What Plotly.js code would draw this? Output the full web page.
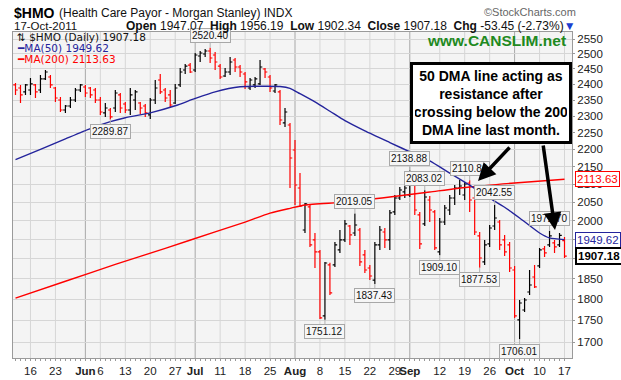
<!DOCTYPE html>
<html><head><meta charset="utf-8">
<script src="https://cdn.plot.ly/plotly-3.0.1.min.js"></script>
<style>html,body{margin:0;padding:0;background:#fff;}#chart{width:621px;height:380px;}</style>
</head><body><div id="chart"></div>
<script>
const dates = [
'2011-05-11','2011-05-12','2011-05-13','2011-05-16','2011-05-17','2011-05-18','2011-05-19','2011-05-20','2011-05-23','2011-05-24','2011-05-25','2011-05-26','2011-05-27','2011-05-31',
'2011-06-01','2011-06-02','2011-06-03','2011-06-06','2011-06-07','2011-06-08','2011-06-09','2011-06-10','2011-06-13','2011-06-14','2011-06-15','2011-06-16','2011-06-17','2011-06-20','2011-06-21','2011-06-22','2011-06-23','2011-06-24','2011-06-27','2011-06-28','2011-06-29','2011-06-30',
'2011-07-01','2011-07-05','2011-07-06','2011-07-07','2011-07-08','2011-07-11','2011-07-12','2011-07-13','2011-07-14','2011-07-15','2011-07-18','2011-07-19','2011-07-20','2011-07-21','2011-07-22','2011-07-25','2011-07-26','2011-07-27','2011-07-28','2011-07-29',
'2011-08-01','2011-08-02','2011-08-03','2011-08-04','2011-08-05','2011-08-08','2011-08-09','2011-08-10','2011-08-11','2011-08-12','2011-08-15','2011-08-16','2011-08-17','2011-08-18','2011-08-19','2011-08-22','2011-08-23','2011-08-24','2011-08-25','2011-08-26','2011-08-29','2011-08-30','2011-08-31',
'2011-09-01','2011-09-02','2011-09-06','2011-09-07','2011-09-08','2011-09-09','2011-09-12','2011-09-13','2011-09-14','2011-09-15','2011-09-16','2011-09-19','2011-09-20','2011-09-21','2011-09-22','2011-09-23','2011-09-26','2011-09-27','2011-09-28','2011-09-29','2011-09-30',
'2011-10-03','2011-10-04','2011-10-05','2011-10-06','2011-10-07','2011-10-10','2011-10-11','2011-10-12','2011-10-13','2011-10-14','2011-10-17'];

const open = [2397.9,2388.2,2375.5,2381.8,2397.9,2381.8,2417.2,2423.6,2388.2,2350.1,2318.9,2331.4,2350.1,2381.8,
2391.4,2388.2,2381.8,2350.1,2309.7,2318.9,2325.1,2366.0,2337.6,2318.9,2350.1,2340.7,2331.4,2303.5,2350.1,2413.9,2381.8,2366.0,2340.7,2397.9,2446.4,2462.6,
2446.4,2492.7,2499.4,2509.3,2496.0,2459.3,2426.9,2439.8,2479.3,2456.3,2433.4,2388.2,2397.9,2401.1,2449.7,2423.6,2378.6,2375.5,2279.0,2272.8,
2198.0,2089.1,1974.9,2036.7,1948.7,1917.7,1760.3,1884.6,1884.6,1922.8,1948.7,1985.5,1967.0,1974.9,1910.0,1877.0,1847.0,1935.7,1969.6,1948.7,2023.1,2061.3,2078.0,
2069.6,2105.9,2015.0,1990.9,2055.8,2023.1,1917.7,1996.2,2028.5,2061.3,2089.1,2069.6,2103.1,2061.3,1959.2,1892.2,1938.3,1985.5,1996.2,1948.7,1935.7,
1872.0,1750.9,1774.4,1817.7,1854.5,1882.1,1925.4,1935.7,1941.0,1935.7,1947.07];

const high = [2404.3,2397.9,2401.1,2420.4,2401.0,2430.2,2446.4,2430.2,2391.4,2359.6,2334.5,2359.6,2388.2,2401.1,
2397.9,2391.4,2388.2,2359.6,2340.7,2325.1,2381.8,2372.3,2343.9,2388.2,2381.8,2343.9,2337.6,2356.4,2413.9,2433.4,2388.2,2381.8,2401.1,2453.0,2465.9,2469.2,
2502.7,2509.3,2516.1,2520.40,2506.0,2465.9,2453.0,2489.4,2486.0,2462.6,2439.8,2420.4,2423.6,2479.3,2453.0,2430.2,2401.1,2381.8,2325.1,2279.0,
2227.6,2131.5,2047.6,2042.2,1967.0,1922.8,1892.2,1890.0,1943.5,1974.9,2001.5,1988.2,2019.05,1980.2,1922.8,1884.6,1943.5,1985.5,1980.2,2028.5,2069.6,2092.1,2105.9,
2138.88,2111.5,2023.1,2083.02,2066.9,2028.5,2006.9,2042.2,2069.6,2097.5,2111.5,2105.9,2110.84,2064.1,1969.6,1948.7,1988.2,2042.55,2001.5,1961.8,1943.5,
1882.1,1798.3,1803.2,1872.0,1884.6,1928.0,1933.2,1972.70,1948.7,1967.0,1956.19];

const low = [2366.0,2340.7,2366.0,2366.0,2356.4,2372.3,2413.9,2388.2,2343.9,2312.7,2309.7,2325.1,2343.9,2375.5,
2359.6,2356.4,2340.7,2303.5,2297.4,2289.87,2312.7,2309.7,2309.7,2303.5,2318.9,2306.6,2297.4,2291.2,2337.6,2369.2,2343.9,2325.1,2337.6,2391.4,2433.4,2436.6,
2439.8,2472.7,2489.4,2469.4,2446.4,2417.2,2423.6,2430.2,2439.8,2423.6,2385.0,2381.8,2388.2,2397.9,2420.4,2375.5,2372.3,2272.8,2266.7,2089.1,
2042.2,2036.7,1967.0,1930.6,1877.0,1753.3,1751.12,1810.4,1879.6,1915.1,1943.5,1935.7,1959.2,1882.1,1864.5,1847.0,1837.43,1922.8,1928.0,1922.8,2015.0,2055.8,2061.3,
2064.1,2015.0,1925.4,1985.5,1996.2,1922.8,1909.10,1988.2,2015.0,2042.2,2069.6,2055.8,2023.1,1961.8,1877.53,1884.6,1930.6,1974.9,1922.8,1907.4,1867.0,
1755.6,1706.01,1769.7,1810.4,1827.5,1877.0,1904.9,1930.6,1915.1,1930.6,1902.34];

const close = [2381.8,2366.0,2397.9,2401.1,2375.5,2417.2,2439.8,2397.9,2356.4,2318.9,2331.4,2350.1,2381.8,2397.9,
2372.3,2366.0,2350.1,2312.7,2325.1,2297.4,2372.3,2325.1,2318.9,2366.0,2375.5,2325.1,2309.7,2350.1,2388.2,2375.5,2356.4,2334.5,2388.2,2439.8,2459.3,2439.8,
2496.0,2502.7,2509.3,2486.0,2472.7,2423.6,2439.8,2472.7,2456.3,2439.8,2407.5,2413.9,2417.2,2456.3,2439.8,2388.2,2397.9,2288.1,2312.7,2174.6,
2097.5,2039.5,2044.9,1935.7,1917.7,1755.6,1889.6,1815.3,1935.7,1948.7,1990.9,1961.8,1988.2,1892.2,1872.0,1857.0,1935.7,1974.9,1948.7,2020.4,2061.3,2083.5,2089.1,
2111.5,2028.5,1938.3,2064.1,2028.5,1928.0,1996.2,2033.9,2061.3,2089.1,2094.7,2100.3,2055.8,1969.6,1902.3,1935.7,1980.2,2006.9,1935.7,1917.7,1877.0,
1760.3,1791.1,1798.3,1834.8,1830.0,1922.8,1915.1,1959.2,1930.6,1960.63,1907.18];

const ma50Dates = ['2011-05-11','2011-05-18','2011-05-25','2011-06-02','2011-06-08','2011-06-13','2011-06-20','2011-06-27','2011-07-01','2011-07-08','2011-07-15','2011-07-22','2011-07-27','2011-07-29','2011-08-02','2011-08-05','2011-08-10','2011-08-15','2011-08-19','2011-08-26','2011-09-02','2011-09-08','2011-09-14','2011-09-20','2011-09-26','2011-09-29','2011-10-04','2011-10-10','2011-10-12','2011-10-17'];
const ma50Values = [2170,2200,2231,2262,2283,2295,2310,2332,2355,2376,2392,2394,2393,2387,2370,2344,2315,2286,2255,2220,2186,2166,2131,2097,2061,2036,2007,1967,1954,1949.62];

const ma200Dates = ['2011-05-11','2011-05-25','2011-06-09','2011-06-23','2011-07-08','2011-07-18','2011-07-25','2011-07-29','2011-08-03','2011-08-15','2011-08-26','2011-09-08','2011-09-20','2011-10-03','2011-10-17'];
const ma200Values = [1803,1844,1886,1927,1970,1996,2020,2033,2042,2050,2064,2078,2092,2103,2113.63];

const tickDates = ['2011-05-16','2011-05-23','2011-06-01','2011-06-06','2011-06-13','2011-06-20','2011-06-27','2011-07-01','2011-07-11','2011-07-18','2011-07-25','2011-08-01','2011-08-08','2011-08-15','2011-08-22','2011-08-29','2011-09-01','2011-09-12','2011-09-19','2011-09-26','2011-10-03','2011-10-10','2011-10-17'];
const tickLabels = ['16','23','Jun','6','13','20','27','Jul','11','18','25','Aug','8','15','22','29','Sep','12','19','26','Oct','10','17'];

const yTicks = [1700,1750,1800,1850,1900,1950,2000,2050,2100,2150,2200,2250,2300,2350,2400,2450,2500,2550];
const yTicksHidden = [1900,1950];

const labelDates = ['2011-07-07','2011-06-08','2011-08-09','2011-08-17','2011-08-23','2011-09-01','2011-09-07','2011-09-12','2011-09-20','2011-09-22','2011-09-27','2011-10-04','2011-10-12'];
const labelKinds = ['high','low','low','high','low','high','high','low','high','low','high','low','high'];

// ---- build ----
const L = Math.log10;
const blk = {x:[],open:[],high:[],low:[],close:[]};
const red = {x:[],open:[],high:[],low:[],close:[]};
dates.forEach((d,i)=>{
  const prev = i>0 ? close[i-1] : open[0];
  const t = close[i] >= prev ? blk : red;
  t.x.push(d); t.open.push(open[i]); t.high.push(high[i]); t.low.push(low[i]); t.close.push(close[i]);
});
function ohlcTrace(s,color){
  return Object.assign({type:'ohlc',tickwidth:0.45,hoverinfo:'skip',showlegend:false,
    line:{width:1.2},
    increasing:{line:{color:color,width:1.2}},decreasing:{line:{color:color,width:1.2}}},s);
}
const traces = [
  {type:'scatter',mode:'lines',x:ma200Dates,y:ma200Values,line:{color:'#ff0000',width:1.4,shape:'spline',smoothing:0.6},hoverinfo:'skip',showlegend:false},
  {type:'scatter',mode:'lines',x:ma50Dates,y:ma50Values,line:{color:'#24249c',width:1.4,shape:'spline',smoothing:0.6},hoverinfo:'skip',showlegend:false},
  ohlcTrace(blk,'#000000'),
  ohlcTrace(red,'#ff0000')
];

const X0=13, PW=559, Y0=32, PH=326;
const px = X => (X - X0)/PW;
const py = Y => (Y0 + PH - Y)/PH;

const shapes = tickDates.map((d,k)=>{
  const month = isNaN(parseInt(tickLabels[k]));
  return {type:'line',xref:'x',yref:'paper',x0:dates.indexOf(d),x1:dates.indexOf(d),y0:0,y1:1,
    line:{color: month ? '#a8a8a8' : '#d6d6d6', width:1}, layer:'below'};
});

const ann = [];
// price labels
labelDates.forEach((d,k)=>{
  const i = dates.indexOf(d);
  const isHigh = labelKinds[k]==='high';
  const v = isHigh ? high[i] : low[i];
  ann.push({x:d,y:L(v),xref:'x',yref:'y',text:v.toFixed(2),showarrow:true,arrowhead:0,arrowwidth:1,arrowcolor:'#b0b0b0',
    ax:0,ay:isHigh?-12:12,standoff:0,font:{family:'Liberation Sans, Arial, sans-serif',size:10,color:'#111'},
    bgcolor:'#f6f6f6',bordercolor:'#a8a8a8',borderwidth:1,borderpad:1});
});
// header
ann.push({xref:'paper',yref:'paper',x:px(12),y:py(13),xanchor:'left',yanchor:'middle',showarrow:false,
  text:'<b>$HMO</b>',font:{family:'Liberation Sans, Arial, sans-serif',size:14,color:'#000'}});
ann.push({xref:'paper',yref:'paper',x:px(57),y:py(13),xanchor:'left',yanchor:'middle',showarrow:false,
  text:'(Health Care Payor - Morgan Stanley) INDX',font:{family:'Liberation Sans Narrow, Liberation Sans, Arial, sans-serif',size:12,color:'#111'}});
ann.push({xref:'paper',yref:'paper',x:px(578),y:py(12),xanchor:'right',yanchor:'middle',showarrow:false,
  text:'©StockCharts.com',font:{family:'Liberation Sans, Arial, sans-serif',size:11,color:'#666'}});
ann.push({xref:'paper',yref:'paper',x:px(12),y:py(26),xanchor:'left',yanchor:'middle',showarrow:false,
  text:'17-Oct-2011',font:{family:'Liberation Sans, Arial, sans-serif',size:11.5,color:'#111'}});
const n = close.length-1;
const chg = close[n]-close[n-1];
ann.push({xref:'paper',yref:'paper',x:px(578),y:py(26),xanchor:'right',yanchor:'middle',showarrow:false,
  text:'<b>Open</b> '+open[n].toFixed(2)+'  <b>High</b> '+high[n].toFixed(2)+'  <b>Low</b> '+low[n].toFixed(2)+'  <b>Close</b> '+close[n].toFixed(2)+'  <b>Chg</b> '+chg.toFixed(2)+' ('+(chg/close[n-1]*100).toFixed(2)+'%)<span style="color:#1a3fd0">▼</span>',
  font:{family:'Liberation Sans Narrow, Liberation Sans, Arial, sans-serif',size:12,color:'#111'}});
// in-plot legend
const legFont = 'DejaVu Sans, Verdana, sans-serif';
ann.push({xref:'paper',yref:'paper',x:px(15),y:py(37),xanchor:'left',yanchor:'middle',showarrow:false,
  text:'⇅ $HMO (Daily) '+close[n].toFixed(2),font:{family:legFont,size:10.5,color:'#111'}});
ann.push({xref:'paper',yref:'paper',x:px(15),y:py(48),xanchor:'left',yanchor:'middle',showarrow:false,
  text:'<b>━</b>MA(50) '+ma50Values[ma50Values.length-1].toFixed(2),font:{family:legFont,size:10.5,color:'#24249c'}});
ann.push({xref:'paper',yref:'paper',x:px(15),y:py(59),xanchor:'left',yanchor:'middle',showarrow:false,
  text:'<b>━</b>MA(200) '+ma200Values[ma200Values.length-1].toFixed(2),font:{family:legFont,size:10.5,color:'#ff0000'}});
ann.push({xref:'paper',yref:'paper',x:px(496),y:py(41),xanchor:'center',yanchor:'middle',showarrow:false,
  text:'<b>www.CANSLIM.net</b>',font:{family:'Liberation Sans, Arial, sans-serif',size:15.5,color:'#1f8a1f'}});
// comment box and arrows
ann.push({xref:'paper',yref:'paper',x:px(490.5),y:py(103.5),xanchor:'center',yanchor:'middle',showarrow:false,
  text:'<b>50 DMA line acting as<br>resistance after<br>crossing below the 200<br>DMA line last month.</b>',
  font:{family:'Liberation Sans, Arial, sans-serif',size:14,color:'#000'},align:'center',
  bgcolor:'#ffffff',bordercolor:'#000',borderwidth:3,borderpad:2,width:152,height:72});
ann.push({xref:'paper',yref:'paper',x:px(478),y:py(181),axref:'pixel',ayref:'pixel',ax:33,ay:-35,text:'',showarrow:true,
  arrowhead:2,arrowsize:1,arrowwidth:3.5,arrowcolor:'#000'});
ann.push({xref:'paper',yref:'paper',x:px(555),y:py(230),axref:'pixel',ayref:'pixel',ax:-12,ay:-86,text:'',showarrow:true,
  arrowhead:2,arrowsize:1,arrowwidth:3.5,arrowcolor:'#000'});
// right side value tags
function tag(v,color,bold,bw){
  ann.push({xref:'paper',yref:'y',x:1,y:L(v),xanchor:'left',yanchor:'middle',xshift:3,showarrow:false,
    text: bold ? '<b>'+v.toFixed(2)+'</b>' : v.toFixed(2),
    font:{family:'Liberation Sans, Arial, sans-serif',size:11.5,color:color},
    bgcolor:'#ffffff',bordercolor:color,borderwidth:bw,borderpad:1});
}
tag(ma200Values[ma200Values.length-1],'#ff0000',false,1);
tag(ma50Values[ma50Values.length-1],'#24249c',false,1);
tag(close[n],'#000000',true,2);

const tickText = dates.map(d=>{
  const k = tickDates.indexOf(d);
  if(k<0) return '';
  const t = tickLabels[k];
  return isNaN(parseInt(t)) ? '<b>'+t+'</b>' : t;
});

const layout = {
  width:621,height:380,
  margin:{l:X0,r:621-X0-PW,t:Y0,b:380-Y0-PH,pad:0},
  paper_bgcolor:'#ffffff',plot_bgcolor:'#f4f4f4',
  font:{family:'Liberation Sans, Arial, sans-serif',size:11,color:'#222'},
  showlegend:false,
  xaxis:{type:'category',categoryorder:'array',categoryarray:dates,range:[-0.5,111.5],
    tickmode:'array',tickvals:dates,ticktext:tickText,tickangle:0,ticks:'outside',ticklen:2,tickcolor:'#999',
    showgrid:false,zeroline:false,showline:true,linecolor:'#9a9a9a',mirror:true,
    rangeslider:{visible:false},fixedrange:true,automargin:false,
    tickfont:{family:'Liberation Sans Narrow, Liberation Sans, Arial, sans-serif',size:11.5,color:'#222'}},
  yaxis:{type:'log',side:'right',range:[L(1664),L(2574)],tickmode:'array',tickvals:yTicks,
    ticktext:yTicks.map(v=>yTicksHidden.indexOf(v)>=0?'':String(v)),ticks:'outside',ticklen:2,tickcolor:'#999',
    showgrid:true,gridcolor:'#d6d6d6',gridwidth:1,zeroline:false,showline:true,linecolor:'#9a9a9a',mirror:true,fixedrange:true,automargin:false,
    tickfont:{family:'Liberation Sans Narrow, Liberation Sans, Arial, sans-serif',size:11.5,color:'#222'}},
  shapes:shapes,
  annotations:ann
};
Plotly.newPlot('chart',traces,layout,{staticPlot:true,displayModeBar:false});
</script>
</body></html>
